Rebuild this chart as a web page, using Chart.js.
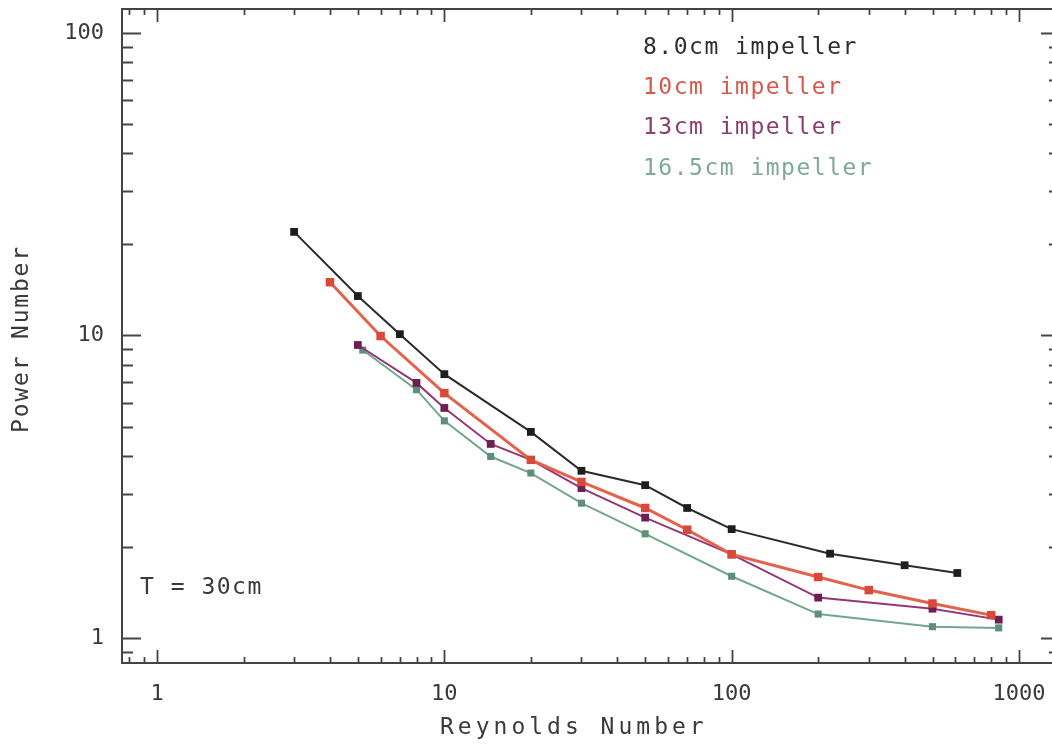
<!DOCTYPE html>
<html>
<head>
<meta charset="utf-8">
<title>Power Number vs Reynolds Number</title>
<script src="https://cdn.jsdelivr.net/npm/chart.js@4.4.1/dist/chart.umd.min.js"></script>
<style>
  html, body { margin: 0; padding: 0; background: #fff; overflow: hidden; }
  #wrap { width: 1052px; height: 748px; overflow: hidden; position: relative; }
  #grafica { display: block; }
</style>
</head>
<body>
<div id="wrap"><canvas id="grafica" width="1070" height="748"></canvas></div>
<script>
// Reynolds number / power number readings, one pair of arrays per impeller
const reBlack = [3, 5, 7, 10, 20, 30, 50, 70, 100, 220, 400, 610];
const npBlack = [22, 13.5, 10.1, 7.45, 4.8, 3.57, 3.2, 2.69, 2.29, 1.9, 1.74, 1.64];

const reRed = [4, 6, 10, 20, 30, 50, 70, 100, 200, 300, 500, 800];
const npRed = [15, 9.96, 6.45, 3.88, 3.28, 2.69, 2.28, 1.89, 1.59, 1.44, 1.3, 1.19];

const rePurple = [5, 8, 10, 14.5, 20, 30, 50, 100, 200, 500, 850];
const npPurple = [9.3, 6.97, 5.76, 4.38, 3.88, 3.13, 2.5, 1.89, 1.36, 1.25, 1.15];

const reGreen = [5.2, 8, 10, 14.5, 20, 30, 50, 100, 200, 500, 850];
const npGreen = [8.95, 6.62, 5.22, 3.98, 3.51, 2.79, 2.21, 1.6, 1.2, 1.09, 1.08];

const etiquetas = ["8.0cm impeller", "10cm impeller", "13cm impeller", "16.5cm impeller"];
const nota = "T = 30cm";
const tituloX = "Reynolds Number";
const tituloY = "Power Number";
const decadas = [1, 10, 100, 1000];

const xMin = 0.7553, xMax = 1389;
const yMin = 0.8267, yMax = 120;

const colorTexto = "#3a3a3a";
const fuente = "'DejaVu Sans Mono', monospace";

function puntos(xs, ys) {
  return xs.map((x, i) => ({ x: x, y: ys[i] }));
}

function serie(label, xs, ys, linea, marca, ancho, radio, colorLeyenda) {
  return {
    label: label,
    data: puntos(xs, ys),
    borderColor: linea,
    backgroundColor: marca,
    pointBackgroundColor: marca,
    pointBorderColor: marca,
    pointStyle: "rect",
    pointRadius: radio,
    pointBorderWidth: 0,
    borderWidth: ancho,
    tension: 0,
    fill: false,
    colorLeyenda: colorLeyenda
  };
}

// marcas hacia adentro, marco y textos sueltos
const marcoPlugin = {
  id: "marco",
  afterDatasetsDraw(chart) {
    const { ctx, chartArea: a, scales } = chart;
    const sx = scales.x, sy = scales.y;
    ctx.save();
    ctx.strokeStyle = "#444";
    ctx.lineWidth = 2;
    // el borde derecho queda fuera de la vista
    ctx.beginPath();
    ctx.moveTo(chart.width, a.top);
    ctx.lineTo(a.left, a.top);
    ctx.lineTo(a.left, a.bottom);
    ctx.lineTo(chart.width, a.bottom);
    ctx.stroke();

    ctx.lineWidth = 1.8;
    for (let d = 0.1; d <= 1000; d *= 10) {
      for (let m = 1; m <= 9; m++) {
        const v = d * m;
        const mayor = m === 1;
        if (v >= xMin && v <= xMax) {
          const px = Math.round(sx.getPixelForValue(v)) + 0.5;
          const l = mayor ? 13 : 6;
          ctx.beginPath();
          ctx.moveTo(px, a.bottom); ctx.lineTo(px, a.bottom - l);
          ctx.moveTo(px, a.top); ctx.lineTo(px, a.top + l);
          ctx.stroke();
        }
        if (v >= yMin && v <= yMax) {
          const py = Math.round(sy.getPixelForValue(v)) + 0.5;
          const l = mayor ? 19 : 11;
          ctx.beginPath();
          ctx.moveTo(a.left, py); ctx.lineTo(a.left + l, py);
          ctx.moveTo(a.right, py); ctx.lineTo(a.right - l, py);
          ctx.stroke();
        }
      }
    }

    ctx.textBaseline = "middle";
    ctx.textAlign = "left";
    ctx.font = "23px " + fuente;
    ctx.letterSpacing = "1.5px";
    chart.data.datasets.forEach((ds, i) => {
      ctx.fillStyle = ds.colorLeyenda;
      ctx.fillText(ds.label, 643, 48 + i * 40.2);
    });
    ctx.fillStyle = colorTexto;
    ctx.fillText(nota, 140, 588);

    ctx.letterSpacing = "4px";
    ctx.fillText(tituloX, 440, 728);

    ctx.translate(22, 339);
    ctx.rotate(-Math.PI / 2);
    ctx.textAlign = "center";
    ctx.letterSpacing = "1.8px";
    ctx.fillText(tituloY, 0, 0);
    ctx.restore();
  }
};

const ctx = document.getElementById("grafica").getContext("2d");

new Chart(ctx, {
  type: "line",
  data: {
    datasets: [
      serie(etiquetas[0], reBlack, npBlack, "#2b2b2b", "#1e1e1e", 2, 5.5, "#2e2e2e"),
      serie(etiquetas[1], reRed, npRed, "#e4624c", "#d8493a", 3, 6, "#d45a4c"),
      serie(etiquetas[2], rePurple, npPurple, "#933778", "#6c1f50", 2, 5.5, "#8a3f6e"),
      serie(etiquetas[3], reGreen, npGreen, "#72a78f", "#5e8f77", 2, 5, "#7ea996")
    ]
  },
  options: {
    responsive: false,
    animation: false,
    devicePixelRatio: 1,
    layout: { padding: { top: 9, right: 10, left: 0, bottom: 0 } },
    plugins: {
      legend: { display: false },
      tooltip: { enabled: false }
    },
    scales: {
      x: {
        type: "logarithmic",
        min: xMin,
        max: xMax,
        grid: { display: false, drawTicks: false },
        border: { display: false },
        afterBuildTicks(scale) {
          scale.ticks = decadas.map(v => ({ value: v }));
        },
        afterFit(scale) {
          scale.height = 85;
          scale.paddingLeft = 0;
          scale.paddingRight = 0;
        },
        ticks: {
          autoSkip: false,
          maxRotation: 0,
          padding: 18,
          color: colorTexto,
          font: { family: fuente, size: 22 },
          callback: v => String(v)
        }
      },
      y: {
        type: "logarithmic",
        min: yMin,
        max: yMax,
        grid: { display: false, drawTicks: false },
        border: { display: false },
        afterBuildTicks(scale) {
          scale.ticks = decadas.slice(0, 3).map(v => ({ value: v }));
        },
        afterFit(scale) {
          scale.width = 122;
          scale.paddingTop = 0;
          scale.paddingBottom = 0;
        },
        ticks: {
          autoSkip: false,
          padding: 18,
          color: colorTexto,
          font: { family: fuente, size: 22 },
          callback: v => String(v)
        }
      }
    }
  },
  plugins: [marcoPlugin]
});
</script>
</body>
</html>
